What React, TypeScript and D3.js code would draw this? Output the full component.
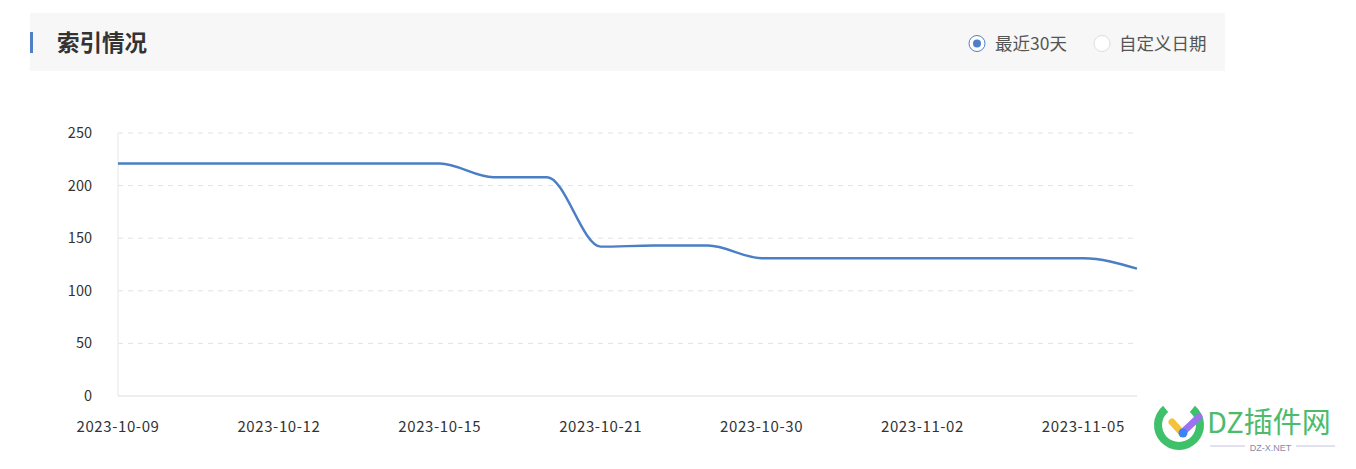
import React from "react";
import * as d3 from "d3";

const dates = [
  "2023-10-09", "2023-10-10", "2023-10-11", "2023-10-12", "2023-10-13",
  "2023-10-14", "2023-10-15", "2023-10-17", "2023-10-19", "2023-10-21",
  "2023-10-24", "2023-10-27", "2023-10-30", "2023-10-31", "2023-11-01",
  "2023-11-02", "2023-11-03", "2023-11-04", "2023-11-05", "2023-11-06",
];
const indexCounts = [
  221, 221, 221, 221, 221, 221, 221, 208, 208, 142,
  143, 143, 131, 131, 131, 131, 131, 131, 131, 121,
];
const yTicks = [0, 50, 100, 150, 200, 250];
const title = "索引情况";
const radioOptions = ["最近30天", "自定义日期"];

const W = 1356;
const H = 469;
const FONT = "'Noto Sans CJK SC', 'Microsoft YaHei', sans-serif";

export default function App() {
  const x = d3.scalePoint<string>().domain(dates).range([118, 1137]);
  const y = d3.scaleLinear().domain([0, 250]).range([396, 133]);
  const line = d3
    .line<number>()
    .x((_, i) => x(dates[i]) as number)
    .y((d) => y(d))
    .curve(d3.curveMonotoneX);
  const labelDates = dates.filter((_, i) => i % 3 === 0);

  return (
    <svg
      width={W}
      height={H}
      style={{ position: "absolute", left: 0, top: 0, background: "#fff" }}
      fontFamily={FONT}
    >
      {/* header */}
      <rect x={30} y={13} width={1195} height={58} fill="#f7f7f7" />
      <rect x={30} y={32} width={3} height={21} fill="#4f7fc4" />
      <text x={57} y={50.5} fontSize={22.5} fontWeight={700} fill="#333">
        {title}
      </text>
      <circle cx={977} cy={43.5} r={8} fill="#fff" stroke="#4f7fc4" strokeWidth={1} />
      <circle cx={977} cy={43.5} r={4} fill="#4f7fc4" />
      <text x={995} y={49.5} fontSize={17.5} fill="#555">
        {radioOptions[0]}
      </text>
      <circle cx={1102} cy={43.5} r={8} fill="#fff" stroke="#ddd" strokeWidth={1} />
      <text x={1119} y={49.5} fontSize={17.5} fill="#555">
        {radioOptions[1]}
      </text>

      {/* grid */}
      {yTicks.map((t) => (
        <g key={t}>
          {t > 0 && (
            <line
              x1={118}
              x2={1137}
              y1={y(t)}
              y2={y(t)}
              stroke="#e2e2e2"
              strokeDasharray="5,5"
            />
          )}
          <text
            x={92}
            y={y(t)}
            dy="0.35em"
            textAnchor="end"
            fontSize={14.5}
            fill="#333"
          >
            {t}
          </text>
        </g>
      ))}
      <line x1={118} x2={118} y1={133} y2={396} stroke="#e6e6e6" />
      <line x1={118} x2={1137} y1={396} y2={396} stroke="#dcdcdc" />
      {labelDates.map((d) => (
        <text
          key={d}
          x={x(d) as number}
          y={432}
          textAnchor="middle"
          fontSize={15}
          letterSpacing={0.6}
          fill="#333"
        >
          {d}
        </text>
      ))}

      <path d={line(indexCounts) || ""} fill="none" stroke="#4a7fc4" strokeWidth={2.4} />

      {/* watermark */}
      <g>
        <path
          d={d3.arc()({
            innerRadius: 17,
            outerRadius: 25,
            startAngle: Math.PI * 0.22,
            endAngle: Math.PI * 1.78,
            cornerRadius: 4,
          }) || ""}
          transform="translate(1179,425)"
          fill="#3fc06b"
        />
        <line x1={1172} y1={422} x2={1182} y2={433} stroke="#f5c23b" strokeWidth={7} strokeLinecap="round" />
        <line x1={1183} y1={432} x2={1199} y2={417} stroke="#9b73ef" strokeWidth={7} strokeLinecap="round" />
        <circle cx={1183} cy={433} r={4.5} fill="#3b82f6" />
        <text x={1207} y={433} fontSize={29} fill="#4cbb6c" fontFamily="'Noto Sans CJK SC', sans-serif">
          DZ插件网
        </text>
        <line x1={1210} y1={446} x2={1245} y2={446} stroke="#b8b0d8" strokeWidth={0.8} />
        <line x1={1296} y1={446} x2={1335} y2={446} stroke="#b8b0d8" strokeWidth={0.8} />
        <text x={1270.5} y={450.5} fontSize={9} fill="#8a8aa8" textAnchor="middle" fontFamily="'Liberation Sans', sans-serif">
          DZ-X.NET
        </text>
      </g>
    </svg>
  );
}
